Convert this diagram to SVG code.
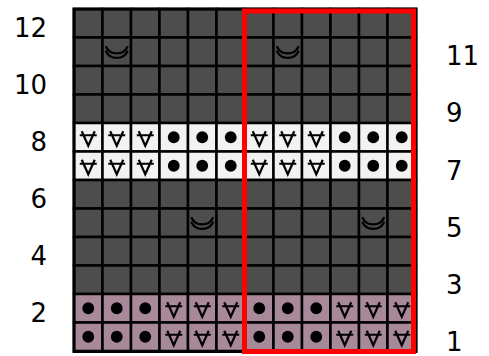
<svg xmlns="http://www.w3.org/2000/svg" xmlns:xlink="http://www.w3.org/1999/xlink" width="489" height="356" viewBox="0 0 489 356">
<style>
.d{fill:#4d4d4d;stroke:#000;stroke-width:2.5}
.w{fill:#f2f2f2;stroke:#000;stroke-width:2.5}
.m{fill:#a8899a;stroke:#000;stroke-width:2.5}
.sym{fill:none;stroke:#000;stroke-width:2.2}
.lbl{font-family:"DejaVu Sans",sans-serif;font-size:26px;fill:#000}
</style>
<defs>
<g id="vv"><path class="sym" d="M-6.5,-6 L0,8.5 L6.5,-6 M-8.5,-2 H8.5"/></g>
<g id="dot"><circle r="5.9" fill="#000"/></g>
<g id="sm"><path class="sym" d="M-11,-5.5 A12,12 0 0 0 11,-5.5 M-11,-1 A12,12 0 0 0 11,-1"/></g>
</defs>
<g id="grid">
<g id="row12"><rect class="d" x="74" y="9" width="28.5" height="28.5"/><rect class="d" x="102.5" y="9" width="28.5" height="28.5"/><rect class="d" x="131" y="9" width="28.5" height="28.5"/><rect class="d" x="159.5" y="9" width="28.5" height="28.5"/><rect class="d" x="188" y="9" width="28.5" height="28.5"/><rect class="d" x="216.5" y="9" width="28.5" height="28.5"/><rect class="d" x="245" y="9" width="28.5" height="28.5"/><rect class="d" x="273.5" y="9" width="28.5" height="28.5"/><rect class="d" x="302" y="9" width="28.5" height="28.5"/><rect class="d" x="330.5" y="9" width="28.5" height="28.5"/><rect class="d" x="359" y="9" width="28.5" height="28.5"/><rect class="d" x="387.5" y="9" width="28.5" height="28.5"/></g>
<g id="row11"><rect class="d" x="74" y="37.5" width="28.5" height="28.5"/><rect class="d" x="102.5" y="37.5" width="28.5" height="28.5"/><rect class="d" x="131" y="37.5" width="28.5" height="28.5"/><rect class="d" x="159.5" y="37.5" width="28.5" height="28.5"/><rect class="d" x="188" y="37.5" width="28.5" height="28.5"/><rect class="d" x="216.5" y="37.5" width="28.5" height="28.5"/><rect class="d" x="245" y="37.5" width="28.5" height="28.5"/><rect class="d" x="273.5" y="37.5" width="28.5" height="28.5"/><rect class="d" x="302" y="37.5" width="28.5" height="28.5"/><rect class="d" x="330.5" y="37.5" width="28.5" height="28.5"/><rect class="d" x="359" y="37.5" width="28.5" height="28.5"/><rect class="d" x="387.5" y="37.5" width="28.5" height="28.5"/>
<use xlink:href="#sm" x="116.75" y="51.75"/><use xlink:href="#sm" x="287.75" y="51.75"/></g>
<g id="row10"><rect class="d" x="74" y="66" width="28.5" height="28.5"/><rect class="d" x="102.5" y="66" width="28.5" height="28.5"/><rect class="d" x="131" y="66" width="28.5" height="28.5"/><rect class="d" x="159.5" y="66" width="28.5" height="28.5"/><rect class="d" x="188" y="66" width="28.5" height="28.5"/><rect class="d" x="216.5" y="66" width="28.5" height="28.5"/><rect class="d" x="245" y="66" width="28.5" height="28.5"/><rect class="d" x="273.5" y="66" width="28.5" height="28.5"/><rect class="d" x="302" y="66" width="28.5" height="28.5"/><rect class="d" x="330.5" y="66" width="28.5" height="28.5"/><rect class="d" x="359" y="66" width="28.5" height="28.5"/><rect class="d" x="387.5" y="66" width="28.5" height="28.5"/></g>
<g id="row9"><rect class="d" x="74" y="94.5" width="28.5" height="28.5"/><rect class="d" x="102.5" y="94.5" width="28.5" height="28.5"/><rect class="d" x="131" y="94.5" width="28.5" height="28.5"/><rect class="d" x="159.5" y="94.5" width="28.5" height="28.5"/><rect class="d" x="188" y="94.5" width="28.5" height="28.5"/><rect class="d" x="216.5" y="94.5" width="28.5" height="28.5"/><rect class="d" x="245" y="94.5" width="28.5" height="28.5"/><rect class="d" x="273.5" y="94.5" width="28.5" height="28.5"/><rect class="d" x="302" y="94.5" width="28.5" height="28.5"/><rect class="d" x="330.5" y="94.5" width="28.5" height="28.5"/><rect class="d" x="359" y="94.5" width="28.5" height="28.5"/><rect class="d" x="387.5" y="94.5" width="28.5" height="28.5"/></g>
<g id="row8"><rect class="w" x="74" y="123" width="28.5" height="28.5"/><rect class="w" x="102.5" y="123" width="28.5" height="28.5"/><rect class="w" x="131" y="123" width="28.5" height="28.5"/><rect class="w" x="159.5" y="123" width="28.5" height="28.5"/><rect class="w" x="188" y="123" width="28.5" height="28.5"/><rect class="w" x="216.5" y="123" width="28.5" height="28.5"/><rect class="w" x="245" y="123" width="28.5" height="28.5"/><rect class="w" x="273.5" y="123" width="28.5" height="28.5"/><rect class="w" x="302" y="123" width="28.5" height="28.5"/><rect class="w" x="330.5" y="123" width="28.5" height="28.5"/><rect class="w" x="359" y="123" width="28.5" height="28.5"/><rect class="w" x="387.5" y="123" width="28.5" height="28.5"/>
<use xlink:href="#vv" x="88.25" y="137.25"/><use xlink:href="#vv" x="116.75" y="137.25"/><use xlink:href="#vv" x="145.25" y="137.25"/><use xlink:href="#dot" x="173.75" y="137.25"/><use xlink:href="#dot" x="202.25" y="137.25"/><use xlink:href="#dot" x="230.75" y="137.25"/><use xlink:href="#vv" x="259.25" y="137.25"/><use xlink:href="#vv" x="287.75" y="137.25"/><use xlink:href="#vv" x="316.25" y="137.25"/><use xlink:href="#dot" x="344.75" y="137.25"/><use xlink:href="#dot" x="373.25" y="137.25"/><use xlink:href="#dot" x="401.75" y="137.25"/></g>
<g id="row7"><rect class="w" x="74" y="151.5" width="28.5" height="28.5"/><rect class="w" x="102.5" y="151.5" width="28.5" height="28.5"/><rect class="w" x="131" y="151.5" width="28.5" height="28.5"/><rect class="w" x="159.5" y="151.5" width="28.5" height="28.5"/><rect class="w" x="188" y="151.5" width="28.5" height="28.5"/><rect class="w" x="216.5" y="151.5" width="28.5" height="28.5"/><rect class="w" x="245" y="151.5" width="28.5" height="28.5"/><rect class="w" x="273.5" y="151.5" width="28.5" height="28.5"/><rect class="w" x="302" y="151.5" width="28.5" height="28.5"/><rect class="w" x="330.5" y="151.5" width="28.5" height="28.5"/><rect class="w" x="359" y="151.5" width="28.5" height="28.5"/><rect class="w" x="387.5" y="151.5" width="28.5" height="28.5"/>
<use xlink:href="#vv" x="88.25" y="165.75"/><use xlink:href="#vv" x="116.75" y="165.75"/><use xlink:href="#vv" x="145.25" y="165.75"/><use xlink:href="#dot" x="173.75" y="165.75"/><use xlink:href="#dot" x="202.25" y="165.75"/><use xlink:href="#dot" x="230.75" y="165.75"/><use xlink:href="#vv" x="259.25" y="165.75"/><use xlink:href="#vv" x="287.75" y="165.75"/><use xlink:href="#vv" x="316.25" y="165.75"/><use xlink:href="#dot" x="344.75" y="165.75"/><use xlink:href="#dot" x="373.25" y="165.75"/><use xlink:href="#dot" x="401.75" y="165.75"/></g>
<g id="row6"><rect class="d" x="74" y="180" width="28.5" height="28.5"/><rect class="d" x="102.5" y="180" width="28.5" height="28.5"/><rect class="d" x="131" y="180" width="28.5" height="28.5"/><rect class="d" x="159.5" y="180" width="28.5" height="28.5"/><rect class="d" x="188" y="180" width="28.5" height="28.5"/><rect class="d" x="216.5" y="180" width="28.5" height="28.5"/><rect class="d" x="245" y="180" width="28.5" height="28.5"/><rect class="d" x="273.5" y="180" width="28.5" height="28.5"/><rect class="d" x="302" y="180" width="28.5" height="28.5"/><rect class="d" x="330.5" y="180" width="28.5" height="28.5"/><rect class="d" x="359" y="180" width="28.5" height="28.5"/><rect class="d" x="387.5" y="180" width="28.5" height="28.5"/></g>
<g id="row5"><rect class="d" x="74" y="208.5" width="28.5" height="28.5"/><rect class="d" x="102.5" y="208.5" width="28.5" height="28.5"/><rect class="d" x="131" y="208.5" width="28.5" height="28.5"/><rect class="d" x="159.5" y="208.5" width="28.5" height="28.5"/><rect class="d" x="188" y="208.5" width="28.5" height="28.5"/><rect class="d" x="216.5" y="208.5" width="28.5" height="28.5"/><rect class="d" x="245" y="208.5" width="28.5" height="28.5"/><rect class="d" x="273.5" y="208.5" width="28.5" height="28.5"/><rect class="d" x="302" y="208.5" width="28.5" height="28.5"/><rect class="d" x="330.5" y="208.5" width="28.5" height="28.5"/><rect class="d" x="359" y="208.5" width="28.5" height="28.5"/><rect class="d" x="387.5" y="208.5" width="28.5" height="28.5"/>
<use xlink:href="#sm" x="202.25" y="222.75"/><use xlink:href="#sm" x="373.25" y="222.75"/></g>
<g id="row4"><rect class="d" x="74" y="237" width="28.5" height="28.5"/><rect class="d" x="102.5" y="237" width="28.5" height="28.5"/><rect class="d" x="131" y="237" width="28.5" height="28.5"/><rect class="d" x="159.5" y="237" width="28.5" height="28.5"/><rect class="d" x="188" y="237" width="28.5" height="28.5"/><rect class="d" x="216.5" y="237" width="28.5" height="28.5"/><rect class="d" x="245" y="237" width="28.5" height="28.5"/><rect class="d" x="273.5" y="237" width="28.5" height="28.5"/><rect class="d" x="302" y="237" width="28.5" height="28.5"/><rect class="d" x="330.5" y="237" width="28.5" height="28.5"/><rect class="d" x="359" y="237" width="28.5" height="28.5"/><rect class="d" x="387.5" y="237" width="28.5" height="28.5"/></g>
<g id="row3"><rect class="d" x="74" y="265.5" width="28.5" height="28.5"/><rect class="d" x="102.5" y="265.5" width="28.5" height="28.5"/><rect class="d" x="131" y="265.5" width="28.5" height="28.5"/><rect class="d" x="159.5" y="265.5" width="28.5" height="28.5"/><rect class="d" x="188" y="265.5" width="28.5" height="28.5"/><rect class="d" x="216.5" y="265.5" width="28.5" height="28.5"/><rect class="d" x="245" y="265.5" width="28.5" height="28.5"/><rect class="d" x="273.5" y="265.5" width="28.5" height="28.5"/><rect class="d" x="302" y="265.5" width="28.5" height="28.5"/><rect class="d" x="330.5" y="265.5" width="28.5" height="28.5"/><rect class="d" x="359" y="265.5" width="28.5" height="28.5"/><rect class="d" x="387.5" y="265.5" width="28.5" height="28.5"/></g>
<g id="row2"><rect class="m" x="74" y="294" width="28.5" height="28.5"/><rect class="m" x="102.5" y="294" width="28.5" height="28.5"/><rect class="m" x="131" y="294" width="28.5" height="28.5"/><rect class="m" x="159.5" y="294" width="28.5" height="28.5"/><rect class="m" x="188" y="294" width="28.5" height="28.5"/><rect class="m" x="216.5" y="294" width="28.5" height="28.5"/><rect class="m" x="245" y="294" width="28.5" height="28.5"/><rect class="m" x="273.5" y="294" width="28.5" height="28.5"/><rect class="m" x="302" y="294" width="28.5" height="28.5"/><rect class="m" x="330.5" y="294" width="28.5" height="28.5"/><rect class="m" x="359" y="294" width="28.5" height="28.5"/><rect class="m" x="387.5" y="294" width="28.5" height="28.5"/>
<use xlink:href="#dot" x="88.25" y="308.25"/><use xlink:href="#dot" x="116.75" y="308.25"/><use xlink:href="#dot" x="145.25" y="308.25"/><use xlink:href="#vv" x="173.75" y="308.25"/><use xlink:href="#vv" x="202.25" y="308.25"/><use xlink:href="#vv" x="230.75" y="308.25"/><use xlink:href="#dot" x="259.25" y="308.25"/><use xlink:href="#dot" x="287.75" y="308.25"/><use xlink:href="#dot" x="316.25" y="308.25"/><use xlink:href="#vv" x="344.75" y="308.25"/><use xlink:href="#vv" x="373.25" y="308.25"/><use xlink:href="#vv" x="401.75" y="308.25"/></g>
<g id="row1"><rect class="m" x="74" y="322.5" width="28.5" height="28.5"/><rect class="m" x="102.5" y="322.5" width="28.5" height="28.5"/><rect class="m" x="131" y="322.5" width="28.5" height="28.5"/><rect class="m" x="159.5" y="322.5" width="28.5" height="28.5"/><rect class="m" x="188" y="322.5" width="28.5" height="28.5"/><rect class="m" x="216.5" y="322.5" width="28.5" height="28.5"/><rect class="m" x="245" y="322.5" width="28.5" height="28.5"/><rect class="m" x="273.5" y="322.5" width="28.5" height="28.5"/><rect class="m" x="302" y="322.5" width="28.5" height="28.5"/><rect class="m" x="330.5" y="322.5" width="28.5" height="28.5"/><rect class="m" x="359" y="322.5" width="28.5" height="28.5"/><rect class="m" x="387.5" y="322.5" width="28.5" height="28.5"/>
<use xlink:href="#dot" x="88.25" y="336.75"/><use xlink:href="#dot" x="116.75" y="336.75"/><use xlink:href="#dot" x="145.25" y="336.75"/><use xlink:href="#vv" x="173.75" y="336.75"/><use xlink:href="#vv" x="202.25" y="336.75"/><use xlink:href="#vv" x="230.75" y="336.75"/><use xlink:href="#dot" x="259.25" y="336.75"/><use xlink:href="#dot" x="287.75" y="336.75"/><use xlink:href="#dot" x="316.25" y="336.75"/><use xlink:href="#vv" x="344.75" y="336.75"/><use xlink:href="#vv" x="373.25" y="336.75"/><use xlink:href="#vv" x="401.75" y="336.75"/></g>
<rect x="74" y="9" width="342" height="342.5" fill="none" stroke="#000" stroke-width="3"/>
</g>
<g id="highlight"><rect x="244.5" y="11" width="169" height="340.5" fill="none" stroke="#ff0000" stroke-width="5"/></g>
<g id="labels-left" class="lbl" text-anchor="end">
<text x="47" y="37">12</text><text x="47" y="94">10</text><text x="47" y="151">8</text><text x="47" y="208">6</text><text x="47" y="265">4</text><text x="47" y="322">2</text>
</g>
<g id="labels-right" class="lbl" text-anchor="start">
<text x="446" y="65">11</text><text x="446" y="122">9</text><text x="446" y="180">7</text><text x="446" y="237">5</text><text x="446" y="294">3</text><text x="446" y="351">1</text>
</g>
</svg>
